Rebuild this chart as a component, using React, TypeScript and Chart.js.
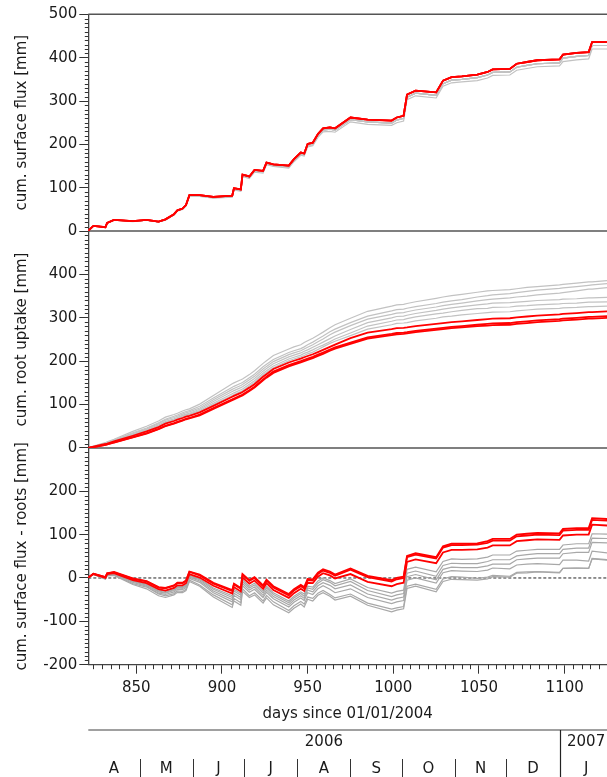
import React, { useEffect, useRef } from "react";
import { Chart, registerables } from "chart.js";
Chart.register(...registerables);

// days since 01/01/2004 (shared time grid)
const days = [822,825,832,833,837,848,856,863,867,872,874,877,879,881,887,895,906,907,911,912,916,919,924,926,930,939,942,946,948,950,953,956,959,963,966,975,985,999,1002,1006,1008,1013,1025,1029,1034,1040,1049,1055,1058,1068,1072,1078,1084,1097,1099,1107,1114,1116,1125];

// cumulative surface flux [mm]
const surfaceFluxRed = [1,12,9,19,26,23,26,22,27,39,48,52,60,83,83,79,82,99,96,130,126,141,139,158,154,151,166,181,179,201,204,224,237,239,237,262,257,255,262,266,315,324,320,347,355,357,361,367,373,374,386,390,394,396,407,411,413,436,436];
const surfaceFluxGreyHi = [1,12,9,19,26,23,25,21,26,38,47,51,59,82,82,77,80,97,94,128,124,139,137,155,151,148,163,178,176,198,200,220,233,235,233,257,252,249,256,260,309,318,313,340,348,350,354,360,366,367,378,382,386,388,399,403,405,428,428];
const surfaceFluxGreyLo = [1,12,9,19,25,22,25,21,25,37,46,50,58,81,80,76,78,95,92,126,121,136,134,153,149,145,160,175,173,194,197,216,229,230,228,252,246,244,250,254,303,312,307,334,342,344,347,353,359,360,371,375,379,381,391,395,397,420,420];

// cumulative root uptake [mm]
const rootUptakeRedA = [0,3,9,10,15,28,38,48,56,62,65,69,72,74,82,97,118,120,127,129,139,147,164,170,182,197,201,206,209,212,216,221,226,233,238,253,266,274,276,277,278,281,286,288,290,292,295,297,298,299,301,303,305,308,309,311,313,313,315];
const rootUptakeRedB = [0,2,7,8,13,25,34,44,51,57,60,64,67,69,77,92,112,114,121,123,133,141,158,164,176,191,195,200,203,206,210,215,220,227,232,243,255,263,265,266,267,270,275,277,279,281,284,286,287,288,290,292,294,297,298,300,302,302,304];
const rootUptakeRedC = [0,2,7,8,12,24,33,43,50,56,59,63,66,68,75,90,110,112,119,121,131,139,156,162,173,188,192,197,200,203,207,212,217,224,229,240,252,260,262,263,264,267,272,274,276,278,281,282,283,284,286,288,290,293,294,296,298,298,300];
const rootUptakeGrey1 = [0,2,9,10,14,28,38,49,57,63,66,71,74,76,84,100,121,123,130,132,143,151,168,174,185,201,205,210,213,217,221,227,233,241,246,259,274,284,287,288,289,293,299,302,304,307,310,312,313,314,316,318,320,322,323,324,326,326,327];
const rootUptakeGrey2 = [0,3,9,11,15,30,40,51,59,65,68,73,76,78,86,103,125,127,134,136,147,155,172,178,189,205,209,214,218,221,226,232,237,245,251,265,281,292,295,296,298,302,309,311,314,317,321,322,324,325,327,328,330,332,333,334,336,336,337];
const rootUptakeGrey3 = [0,3,10,11,16,31,42,53,61,67,70,75,78,80,89,107,130,132,139,141,152,160,177,183,194,210,214,219,223,226,232,238,244,252,258,273,289,300,303,304,306,310,317,320,323,326,330,332,334,335,336,338,340,342,343,344,346,346,347];
const rootUptakeGrey4 = [0,3,10,12,17,33,44,56,64,70,73,78,81,83,92,111,135,137,144,146,157,165,182,188,199,215,219,224,228,232,238,245,251,261,267,282,297,308,311,312,314,318,325,328,331,334,339,342,343,346,348,350,353,357,358,362,366,366,370];
const rootUptakeGrey5 = [0,3,11,13,18,35,46,58,66,73,76,81,84,86,96,115,140,142,149,151,162,170,187,193,204,220,224,229,233,238,244,251,258,268,274,289,304,316,319,320,322,326,333,336,339,342,348,351,353,356,358,361,364,368,369,372,375,376,379];
const rootUptakeGrey6 = [0,4,12,14,20,38,50,62,71,77,80,85,88,90,101,121,148,150,157,159,169,178,195,201,213,228,233,238,243,247,253,260,267,277,284,299,315,327,330,331,333,337,345,348,351,354,359,362,363,365,367,370,372,376,377,380,383,383,386];

// axes
const xTicks = [850, 900, 950, 1000, 1050, 1100];
const y1Ticks = [0, 100, 200, 300, 400, 500];
const y2Ticks = [0, 100, 200, 300, 400];
const y3Ticks = [-200, -100, 0, 100, 200];
const monthLabels = ["A", "M", "J", "J", "A", "S", "O", "N", "D", "J"];
const monthStartDays = [822, 852, 883, 913, 944, 975, 1005, 1036, 1066, 1097, 1128];
const yearLabels = ["2006", "2007"];
const yearStartDays = [822, 1097];
const yearEndDays = [1097, 1128];

const FONT = "DejaVu Sans";
const TXT = "#1a1a1a";
const RED = "#ff0000";
const GREY12 = "#c2c2c2";
const GREY3 = "#a8a8a8";

const redMembers = [
  { surface: surfaceFluxRed, root: rootUptakeRedA },
  { surface: surfaceFluxRed, root: rootUptakeRedB },
  { surface: surfaceFluxRed, root: rootUptakeRedC },
];
const greyMembers = [
  { surface: surfaceFluxGreyHi, root: rootUptakeGrey1 },
  { surface: surfaceFluxGreyHi, root: rootUptakeGrey2 },
  { surface: surfaceFluxGreyHi, root: rootUptakeGrey3 },
  { surface: surfaceFluxGreyHi, root: rootUptakeGrey4 },
  { surface: surfaceFluxGreyLo, root: rootUptakeGrey5 },
  { surface: surfaceFluxGreyHi, root: rootUptakeGrey6 },
];

const decor = {
  id: "decor",
  beforeDatasetsDraw(chart: any) {
    const { ctx, chartArea: a, scales } = chart;
    ctx.save();
    ctx.strokeStyle = "#555";
    ctx.lineWidth = 1.5;
    const ys = [scales.y1.getPixelForValue(500), scales.y1.getPixelForValue(0), scales.y2.getPixelForValue(0)];
    for (const y of ys) {
      ctx.beginPath();
      ctx.moveTo(a.left, y);
      ctx.lineTo(a.right, y);
      ctx.stroke();
    }
    const z = scales.y3.getPixelForValue(0);
    ctx.setLineDash([3, 2]);
    ctx.strokeStyle = "#222";
    ctx.lineWidth = 1;
    ctx.beginPath();
    ctx.moveTo(a.left, z);
    ctx.lineTo(a.right, z);
    ctx.stroke();
    ctx.restore();
  },
  afterDraw(chart: any) {
    const { ctx, chartArea: a, scales } = chart;
    const x = scales.x;
    ctx.save();
    ctx.strokeStyle = "#333";
    ctx.lineWidth = 1;
    // minor y ticks
    for (const id of ["y1", "y2", "y3"]) {
      const s = scales[id];
      for (let v = s.min; v <= s.max; v += 10) {
        if (v % 100 === 0) continue;
        const py = Math.round(s.getPixelForValue(v)) + 0.5;
        ctx.beginPath();
        ctx.moveTo(a.left - 3.5, py);
        ctx.lineTo(a.left, py);
        ctx.stroke();
      }
    }
    // minor x ticks
    for (let d = Math.ceil(x.min / 5) * 5; d <= x.max; d += 5) {
      if (d % 50 === 0) continue;
      const px = Math.round(x.getPixelForValue(d)) + 0.5;
      ctx.beginPath();
      ctx.moveTo(px, a.bottom);
      ctx.lineTo(px, a.bottom + 4.5);
      ctx.stroke();
    }
    // calendar axis
    const lineY = 730;
    const H = chart.height;
    ctx.strokeStyle = "#808080";
    ctx.lineWidth = 1.6;
    ctx.beginPath();
    ctx.moveTo(a.left, lineY);
    ctx.lineTo(a.right, lineY);
    ctx.stroke();
    ctx.fillStyle = TXT;
    ctx.font = `15px "${FONT}"`;
    ctx.textAlign = "center";
    ctx.textBaseline = "middle";
    yearLabels.forEach((lab, i) => {
      if (i > 0) {
        const px = Math.round(x.getPixelForValue(yearStartDays[i])) + 0.5;
        ctx.strokeStyle = "#222";
        ctx.lineWidth = 1.2;
        ctx.beginPath();
        ctx.moveTo(px, lineY);
        ctx.lineTo(px, H);
        ctx.stroke();
      }
      const c = x.getPixelForValue((yearStartDays[i] + yearEndDays[i]) / 2);
      ctx.fillText(lab, c, 742.5);
    });
    monthLabels.forEach((lab, i) => {
      const s = monthStartDays[i];
      const e = monthStartDays[i + 1];
      if (i > 0 && !yearStartDays.includes(s)) {
        const px = Math.round(x.getPixelForValue(s)) + 0.5;
        ctx.strokeStyle = "#333";
        ctx.lineWidth = 1;
        ctx.beginPath();
        ctx.moveTo(px, 759);
        ctx.lineTo(px, H);
        ctx.stroke();
      }
      ctx.fillText(lab, x.getPixelForValue((s + e) / 2), 769);
    });
    ctx.restore();
  },
};

export default function App() {
  const ref = useRef<HTMLCanvasElement>(null);
  useEffect(() => {
    const canvas = ref.current!;
    const pts = (ys: number[]) => days.map((d, i) => ({ x: d, y: ys[i] }));
    const diff = (a: number[], b: number[]) => a.map((v, i) => v - b[i]);
    const datasets: any[] = [];
    const add = (data: number[], axis: string, red: boolean) =>
      datasets.push({
        data: pts(data),
        yAxisID: axis,
        borderColor: red ? RED : axis === "y3" ? GREY3 : GREY12,
        borderWidth: red ? 1.8 : 1.2,
        pointRadius: 0,
        fill: false,
        tension: 0,
        order: red ? 0 : 1,
      });
    for (const m of redMembers) {
      add(m.surface, "y1", true);
      add(m.root, "y2", true);
      add(diff(m.surface, m.root), "y3", true);
    }
    for (const m of greyMembers) {
      add(m.surface, "y1", false);
      add(m.root, "y2", false);
      add(diff(m.surface, m.root), "y3", false);
    }
    const font = { family: FONT, size: 15 };
    const yAxis = (min: number, max: number, ticks: number[], title: string, weight: number) => ({
      type: "linear",
      position: "left",
      stack: "panels",
      stackWeight: 1,
      weight,
      min,
      max,
      afterBuildTicks: (s: any) => {
        s.ticks = ticks.map((v) => ({ value: v }));
      },
      afterFit: (s: any) => {
        s.width = 88.3;
      },
      ticks: { font, color: TXT, padding: 2, autoSkip: false, callback: (v: any) => String(v) },
      grid: { drawOnChartArea: false, drawTicks: true, tickLength: 9, tickColor: "#333", tickWidth: 1 },
      border: { display: true, color: "#444", width: 1.3 },
      title: { display: true, text: title, font, color: TXT, padding: { top: 13, bottom: 0 } },
    });
    const chart = new Chart(canvas, {
      type: "line",
      data: { datasets },
      options: {
        animation: false,
        responsive: false,
        devicePixelRatio: 1,
        events: [],
        layout: { padding: { top: 14.3, left: 0, right: 0, bottom: 0 } },
        plugins: { legend: { display: false }, tooltip: { enabled: false } },
        scales: {
          x: {
            type: "linear",
            position: "bottom",
            min: 822,
            max: 1124.7,
            afterBuildTicks: (s: any) => {
              s.ticks = xTicks.map((v) => ({ value: v }));
            },
            afterFit: (s: any) => {
              s.height = 112.3;
            },
            ticks: { font, color: TXT, padding: 5, autoSkip: false, maxRotation: 0, callback: (v: any) => String(v) },
            grid: { drawOnChartArea: false, drawTicks: true, tickLength: 9, tickColor: "#333", tickWidth: 1 },
            border: { display: true, color: "#444", width: 1.3 },
            title: { display: true, text: "days since 01/01/2004", font, color: TXT, padding: { top: 0, bottom: 54 } },
          },
          y3: yAxis(-200, 300, y3Ticks, "cum. surface flux - roots [mm]", 1),
          y2: yAxis(0, 500, y2Ticks, "cum. root uptake [mm]", 2),
          y1: yAxis(0, 500, y1Ticks, "cum. surface flux [mm]", 3),
        } as any,
      },
      plugins: [decor],
    } as any);
    return () => chart.destroy();
  }, []);
  return (
    <div style={{ position: "absolute", left: 0, top: 0, width: 607, height: 777, overflow: "hidden", background: "#fff" }}>
      <canvas ref={ref} width={607} height={777} style={{ display: "block", width: 607, height: 777 }} />
    </div>
  );
}
